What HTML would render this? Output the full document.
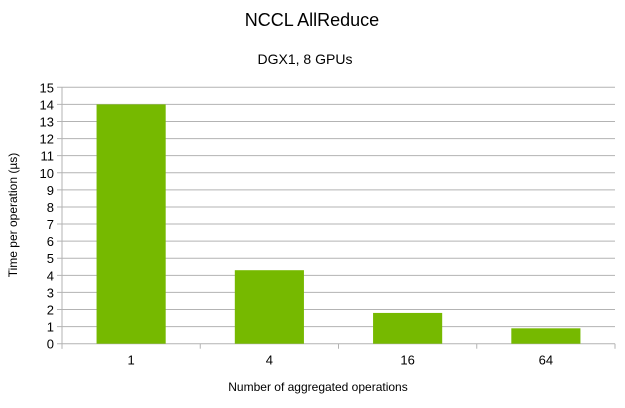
<!DOCTYPE html>
<html><head><meta charset="utf-8"><style>
body{margin:0;background:#fff;font-family:"Liberation Sans",sans-serif;}
svg text{font-family:"Liberation Sans",sans-serif;fill:#000;}
</style></head><body>
<svg id="chart" width="625" height="403">
<text x="312" y="26" font-size="18" text-anchor="middle">NCCL AllReduce</text>
<text x="305" y="64" font-size="14" text-anchor="middle">DGX1, 8 GPUs</text>
<text x="318" y="391" font-size="12" text-anchor="middle">Number of aggregated operations</text>
<text transform="translate(17,215) rotate(-90)" font-size="12" text-anchor="middle">Time per operation (µs)</text>
<g id="grid"></g><g id="bars"></g><g id="axes"></g>
</svg>
<script>
const categories=["1","4","16","64"];
const values=[14,4.3,1.8,0.9];
const yTicks=[0,1,2,3,4,5,6,7,8,9,10,11,12,13,14,15];
const X0=62,X1=615,Y0=343.7,Y15=87.3,YMAX=15;
const ns="http://www.w3.org/2000/svg";
function y(v){return Y0-(v/YMAX)*(Y0-Y15);}
const cw=(X1-X0)/categories.length;
function xc(i){return X0+cw*(i+0.5);}
const grid=document.getElementById('grid'),bars=document.getElementById('bars'),axes=document.getElementById('axes');
function mk(t,a,p){const e=document.createElementNS(ns,t);for(const k in a)e.setAttribute(k,a[k]);p.appendChild(e);return e;}
yTicks.forEach(v=>{
 const l=mk('line',{x1:X0-5,x2:X1,y1:y(v),y2:y(v),stroke:'#b3b3b3','stroke-width':1},grid);
 
 
 const t=mk('text',{x:X0-8,y:y(v)+5,'font-size':13,'text-anchor':'end'},axes);
 t.textContent=v;
 
 
});
const ya=mk('line',{x1:X0,x2:X0,y1:Y15,y2:Y0+5,stroke:'#b3b3b3'},axes);


for(let i=0;i<=categories.length;i++){
 const tk=mk('line',{x1:X0+cw*i,x2:X0+cw*i,y1:Y0,y2:Y0+5,stroke:'#b3b3b3'},axes);
 
 
}
categories.forEach((c,i)=>{
 const bw=cw/2;
 const r=mk('rect',{x:xc(i)-bw/2,y:y(values[i]),width:bw,height:Y0-y(values[i]),fill:'#76b900'},bars);
 
 
 const t=mk('text',{x:xc(i),y:Y0+21,'font-size':13,'text-anchor':'middle'},axes);
 t.textContent=c;
 
 
});
</script>
</body></html>
